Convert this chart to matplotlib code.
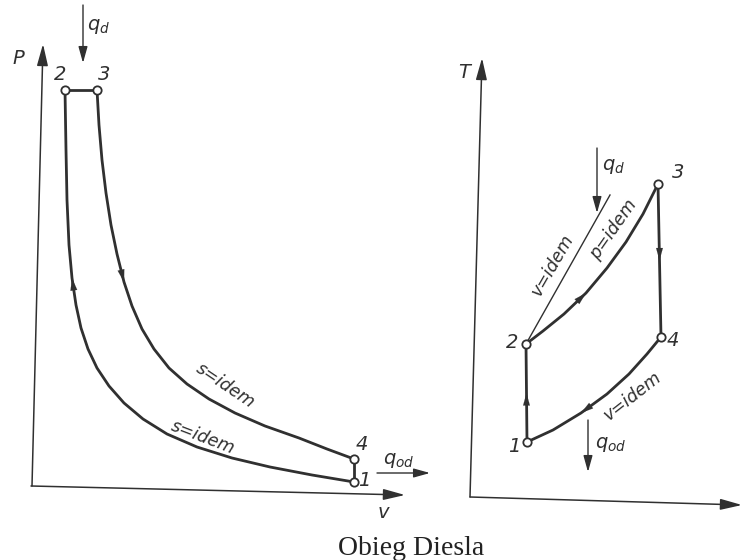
import numpy as np
import matplotlib
matplotlib.use("Agg")
import matplotlib.pyplot as plt

plt.rcParams['mathtext.fontset'] = 'dejavusans'

# p-v diagram (arbitrary units)
pv_labels = ["1", "2", "3", "4"]
pv_v = [317, 28, 60, 317]
pv_p = [8, 400, 400, 31]

# compression 1 -> 2 (s=idem)
comp_v = [317, 275, 233, 195, 160, 130, 106, 87, 72, 60, 51, 44, 39, 35, 32, 30, 29, 28]
comp_p = [8, 15, 23, 32, 43, 56, 71, 87, 104, 122, 141, 162, 185, 212, 245, 290, 340, 400]
# expansion 3 -> 4 (s=idem)
exp_v = [60, 62, 65, 69, 74, 80, 87, 95, 105, 117, 132, 150, 172, 198, 228, 262, 290, 317]
exp_p = [400, 365, 330, 297, 265, 236, 208, 184, 161, 141, 122, 106, 91, 77, 64, 52, 41, 31]

# T-s diagram
ts_labels = ["1", "2", "3", "4"]
ts_s = [51, 50, 182, 185]
ts_T = [58, 156, 316, 163]

# 2 -> 3 (p=idem)
isob_s = [50, 67, 88, 110, 131, 150, 167, 182]
isob_T = [156, 169, 186, 207, 232, 258, 286, 316]
# isochore through 2 (v=idem, thin)
isoc_s = [50, 134]
isoc_T = [156, 305]
# 4 -> 1 (v=idem)
rej_s = [185, 171, 153, 131, 105, 77, 51]
rej_T = [163, 146, 126, 106, 87, 70, 58]

ink = "#303030"
lw_main = 2.0
lw_axis = 1.1

fig = plt.figure(figsize=(7.4, 5.6), dpi=100)
fig.patch.set_facecolor("white")

ax1 = fig.add_axes([37/740, 70/560, 373/740, 445/560])
ax2 = fig.add_axes([476/740, 60/560, 264/740, 445/560])
ax1.set_xlim(0, 373)
ax1.set_ylim(0, 445)
ax2.set_xlim(0, 264)
ax2.set_ylim(0, 445)
for ax in (ax1, ax2):
    ax.axis("off")

axis_arrow = dict(arrowstyle="-|>,head_length=1.1,head_width=0.28", color=ink,
                  lw=lw_axis, mutation_scale=12, shrinkA=0, shrinkB=0)
small_arrow = dict(arrowstyle="-|>,head_length=0.9,head_width=0.25", color=ink,
                   lw=1.0, mutation_scale=11, shrinkA=0, shrinkB=0)
curve_arrow = dict(arrowstyle="-|>,head_length=0.8,head_width=0.22", color=ink,
                   lw=0.1, mutation_scale=11, shrinkA=0, shrinkB=0)

def arrow(ax, start, end, props):
    ax.annotate("", xy=end, xytext=start, arrowprops=props, annotation_clip=False)

lab = dict(color=ink, fontsize=14, style="italic", ha="center", va="center")
note = dict(color=ink, fontsize=12.5, style="italic", ha="center", va="center",
            rotation_mode="anchor")

# ---- p-v ----
# the scanned axes lean a little
arrow(ax1, (-5, 4), (6, 446), axis_arrow)
arrow(ax1, (-6, 4), (368, -5), axis_arrow)
ax1.text(-19, 432, "P", **lab)
ax1.text(346, -23, "v", **lab)

ax1.plot(comp_v, comp_p, color=ink, lw=lw_main, solid_joinstyle="round")
ax1.plot(exp_v, exp_p, color=ink, lw=lw_main, solid_joinstyle="round")
ax1.plot([pv_v[1], pv_v[2]], [pv_p[1], pv_p[2]], color=ink, lw=lw_main)
ax1.plot([pv_v[3], pv_v[0]], [pv_p[3], pv_p[0]], color=ink, lw=lw_main)
ax1.plot(pv_v, pv_p, "o", ms=6, mfc="white", mec=ink, mew=1.3, clip_on=False, zorder=5)

arrow(ax1, (exp_v[5], exp_p[5]), (exp_v[6], exp_p[6]), curve_arrow)
arrow(ax1, (comp_v[12], comp_p[12]), (comp_v[13], comp_p[13]), curve_arrow)

for name, x, y, dx, dy in zip(pv_labels, pv_v, pv_p, [10, -5, 7, 8], [2, 15, 15, 14]):
    ax1.text(x + dx, y + dy, name, **lab)

arrow(ax1, (46, 485), (46, 427), small_arrow)
ax1.text(62, 463, r"$q_d$", **lab)
arrow(ax1, (340, 17), (393, 17), small_arrow)
ax1.text(362, 30, r"$q_{od}$", **lab)

ax1.text(188, 104, "s=idem", rotation=-34, **note)
ax1.text(166, 53, "s=idem", rotation=-21, **note)

# ---- T-s ----
arrow(ax2, (-6, 3), (6, 442), axis_arrow)
arrow(ax2, (-6, 3), (266, -5), axis_arrow)
ax2.text(-12, 428, "T", **lab)

ax2.plot(isob_s, isob_T, color=ink, lw=lw_main, solid_joinstyle="round")
ax2.plot(isoc_s, isoc_T, color=ink, lw=1.0)
ax2.plot(rej_s, rej_T, color=ink, lw=lw_main, solid_joinstyle="round")
ax2.plot([ts_s[2], ts_s[3]], [ts_T[2], ts_T[3]], color=ink, lw=lw_main)
ax2.plot([ts_s[0], ts_s[1]], [ts_T[0], ts_T[1]], color=ink, lw=lw_main)
ax2.plot(ts_s, ts_T, "o", ms=6, mfc="white", mec=ink, mew=1.3, zorder=5)

arrow(ax2, (isob_s[2], isob_T[2]), (isob_s[3], isob_T[3]), curve_arrow)
arrow(ax2, (rej_s[3], rej_T[3]), (rej_s[4], rej_T[4]), curve_arrow)
mid34 = ((ts_s[2] + ts_s[3]) / 2, (ts_T[2] + ts_T[3]) / 2)
arrow(ax2, (mid34[0], mid34[1] + 15), mid34, curve_arrow)
mid12 = ((ts_s[0] + ts_s[1]) / 2, (ts_T[0] + ts_T[1]) / 2)
arrow(ax2, (mid12[0], mid12[1] - 15), mid12, curve_arrow)

for name, x, y, dx, dy in zip(ts_labels, ts_s, ts_T, [-13, -14, 20, 12], [-4, 1, 12, -3]):
    ax2.text(x + dx, y + dy, name, **lab)

arrow(ax2, (121, 352), (121, 287), small_arrow)
ax2.text(138, 334, r"$q_d$", **lab)
arrow(ax2, (112, 80), (112, 28), small_arrow)
ax2.text(135, 56, r"$q_{od}$", **lab)

ax2.text(76, 235, "v=idem", rotation=60, **note)
ax2.text(137, 270, "p=idem", rotation=55, **note)
ax2.text(157, 104, "v=idem", rotation=38, **note)

fig.text(411/740, 1 - 555/560, "Obieg Diesla", family="Liberation Serif",
         fontsize=20, color="#222222", ha="center", va="baseline")

fig.savefig("out.png", dpi=100, facecolor="white")
